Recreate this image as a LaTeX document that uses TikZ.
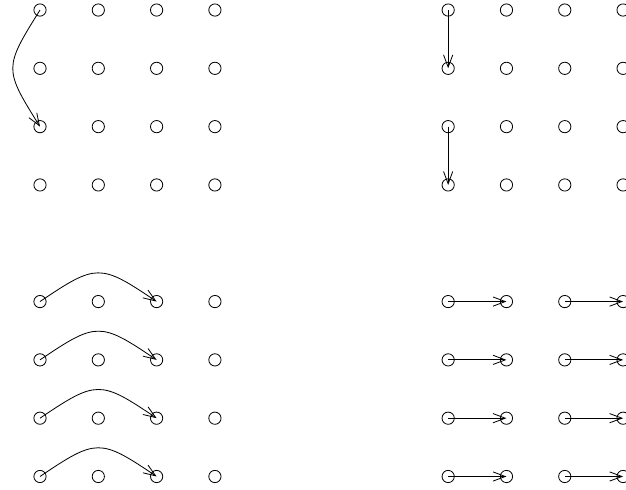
\documentclass[tikz,border=0pt]{standalone}
\usetikzlibrary{arrows.meta}
\begin{document}
\begin{tikzpicture}[>={Straight Barb[length=6pt,width=4.5pt]},
  dot/.style={circle,draw,inner sep=0pt,minimum size=0.21cm}]
\useasboundingbox (-0.686,-8.216) rectangle (10.05,0.172);
% four 4x4 grids of points
\foreach \c in {0,1,2,3,7,8,9,10}
  \foreach \r in {0,1,2,3,5,6,7,8}
    \node[dot] (p\r-\c) at (\c,-\r) {};
% top left
\draw[->] (p0-0.center) to[out=238,in=122,looseness=1.5] (p2-0.center);
% top right
\draw[->] (p0-7.center) -- (p1-7.center);
\draw[->] (p2-7.center) -- (p3-7.center);
% bottom rows
\foreach \r in {5,6,7,8} {
  \draw[->] (p\r-0.center) to[out=34,in=146,looseness=1.5] (p\r-2.center);
  \draw[->] (p\r-7.center) -- (p\r-8.center);
  \draw[->] (p\r-9.center) -- (p\r-10.center);
}
\end{tikzpicture}
\end{document}
